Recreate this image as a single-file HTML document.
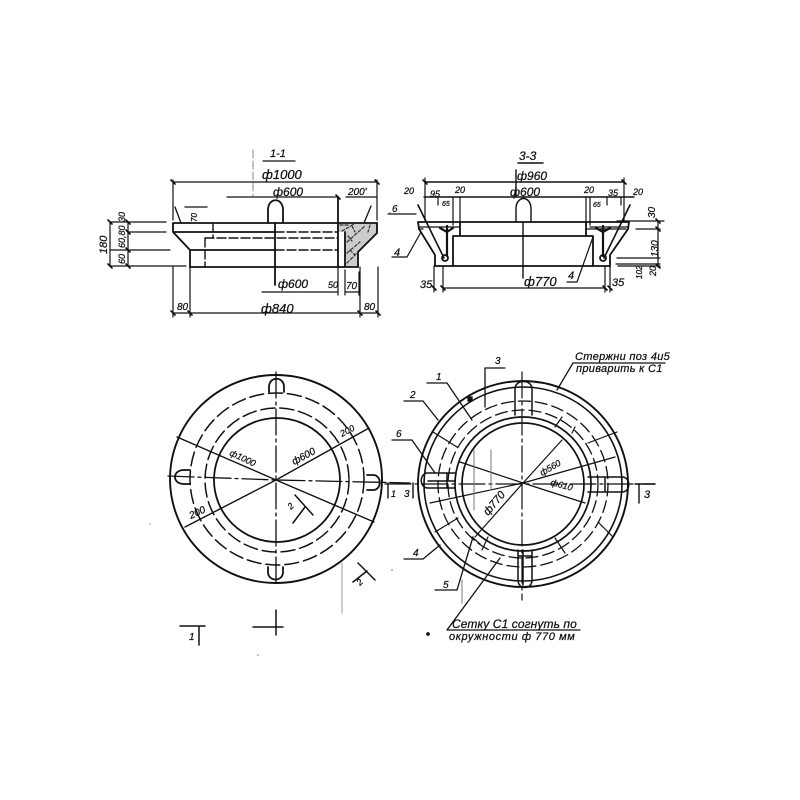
<!DOCTYPE html>
<html><head><meta charset="utf-8"><style>
html,body{margin:0;padding:0;background:#fff}
svg{display:block;filter:blur(.35px)}
text{font-family:"Liberation Sans","DejaVu Sans",sans-serif;font-style:italic;font-weight:normal;fill:#111;stroke:#111;stroke-width:.25}
</style></head><body>
<svg width="800" height="800" viewBox="0 0 800 800" fill="none" stroke="#111" stroke-width="1.3" stroke-linecap="round">
<!-- Section 1-1 -->
<g>
<path d="M338 223H377V233L358 252V267H345V232H338Z" fill="#ccc" stroke="none"/>
<path d="M340 225l8 0M342 231l12 -7M347 242l18 -16M347 253l13 -11M347 263l10 -10M352 226l3 6M370 225l-2 7M348 236l4 5M350 250l5 5" stroke="#333" stroke-dasharray="3 2" stroke-width="1.2"/>
<path d="M173 223H377V233L358 252V267H190V250L173 232V223M190 250H275M173 232H275M338 197V267M345 232V267" stroke-width="1.8"/>
<path d="M275 232H338M205 238H338M205 238V267M213 223V238M275 250H338" stroke-dasharray="9 3" stroke-width="1.4"/>
<path d="M268 223V210C268 197 283 197 283 210V223M275 223V285" stroke-width="1.8"/>
<path d="M175 207L181 223M371 206L364 223M185 207H207"/>
<path d="M173 180V220M377 180V220M173 182H377M346 197H377M227 197H338M263 161H295M262 292H338M338 267V295M345 270V295M359 272V295M345 292H359M173 267V317M190 267V317M360 267V317M378 267V317M173 313H378" stroke-width="1.2"/>
<path d="M253 150V196" stroke="#888" stroke-dasharray="8 3" stroke-width="1"/>
<path d="M110 222H166M128 232H166M110 250H170M110 266H186M110 222V266M128 222V266" stroke-width="1.2"/>
<path d="M171 180l4 4M375 180l4 4M171 311l4 4M188 311l4 4M358 311l4 4M376 311l4 4M336 195l4 4M126 220l4 4M126 230l4 4M126 248l4 4M126 264l4 4M108 220l4 4M108 264l4 4" stroke-width="1.6"/>
<text x="270" y="157" font-size="11">1-1</text>
<text x="262" y="179" font-size="13">ф1000</text>
<text x="273" y="196" font-size="12">ф600</text>
<text x="348" y="195" font-size="10">200'</text>
<text x="278" y="288" font-size="12">ф600</text>
<text x="328" y="288" font-size="9">50</text>
<text x="346" y="289" font-size="10">70</text>
<text x="261" y="313" font-size="13">ф840</text>
<text x="177" y="310" font-size="10">80</text>
<text x="364" y="310" font-size="10">80</text>
<text transform="translate(107,254) rotate(-90)" font-size="11">180</text>
<text transform="translate(125,222) rotate(-90)" font-size="9">30</text>
<text transform="translate(125,248) rotate(-90)" font-size="9">60,80</text>
<text transform="translate(125,264) rotate(-90)" font-size="9">60</text>
<text transform="translate(197,222) rotate(-90)" font-size="8">70</text>
</g>
<!-- Section 3-3 -->
<g>
<path d="M418 222H629L628 229L610 255V266H435V255L419 229L418 222M460 222V236M586 222V236M453 236H593M453 236V266M593 236V266" stroke-width="1.8"/>
<path d="M420 227H460M590 227H628M419 229H423M586 229H626" stroke-width="1.2"/>
<path d="M447 226V256M603 226V256M440 228L447 232L453 228M596 228L603 232L610 228" stroke-width="2.2"/>
<path d="M418 205L444 258M630 205L604 258" stroke-width="1.6"/>
<circle cx="445" cy="258" r="3" stroke-width="1.8"/><circle cx="603" cy="258" r="3" stroke-width="1.8"/>
<path d="M516 222V209C516 195 531 195 531 209V222M523 222V278M518 163H543M516 170V197M425 182H624M424 197H634" stroke-width="1.4"/>
<path d="M425 178V222M624 178V222M438 197V205M453 197V225M460 197V225M586 197V225M590 197V225M607 197V205M621 197V205M388 214H416M392 257H407L421 232" stroke-width="1.2"/>
<path d="M434 266V292M443 266V292M605 266V292M610 266V292M443 288H605M567 282H577L593 237M617 221H664M636 229H660M617 258H660M616 264H660M618 266H660M658 221V267" stroke-width="1.2"/>
<path d="M423 180l4 4M622 180l4 4M441 286l4 4M603 286l4 4M432 286l4 4M608 286l4 4M656 219l4 4M656 227l4 4M656 264l4 4" stroke-width="1.6"/>
<text x="519" y="160" font-size="12" font-style="normal">3-3</text>
<text x="517" y="180" font-size="12">ф960</text>
<text x="510" y="196" font-size="12">ф600</text>
<text x="404" y="194" font-size="9">20</text>
<text x="430" y="197" font-size="9">95</text>
<text x="442" y="206" font-size="7">65</text>
<text x="455" y="193" font-size="9">20</text>
<text x="584" y="193" font-size="9">20</text>
<text x="593" y="207" font-size="7">65</text>
<text x="608" y="196" font-size="9">35</text>
<text x="633" y="195" font-size="9">20</text>
<text x="392" y="212" font-size="10">6</text>
<text x="394" y="256" font-size="11">4</text>
<text x="568" y="279" font-size="11">4</text>
<text x="420" y="288" font-size="11">35</text>
<text x="612" y="286" font-size="11">35</text>
<text x="524" y="286" font-size="13">ф770</text>
<text transform="translate(655,218) rotate(-90)" font-size="10">30</text>
<text transform="translate(658,257) rotate(-90)" font-size="10">130</text>
<text transform="translate(642,279) rotate(-90)" font-size="8">102</text>
<text transform="translate(656,276) rotate(-90)" font-size="9">20</text>
</g>
<!-- Left plan -->
<g>
<ellipse cx="276" cy="479" rx="106" ry="104" stroke-width="1.9"/>
<ellipse cx="277" cy="480" rx="63" ry="62" stroke-width="1.8"/>
<ellipse cx="277" cy="480" rx="72" ry="72" stroke-dasharray="14 5" stroke-width="1.5"/>
<ellipse cx="277" cy="479" rx="87" ry="86" stroke-dasharray="14 5" stroke-width="1.5"/>
<path d="M276 372V583M168 476L276 480L410 483" stroke-dasharray="26 4 3 4" stroke-width="1.3"/>
<path d="M269 392V387C269 376 284 376 284 387V392" stroke-width="1.8"/>
<path d="M268 567V572C268 582 283 582 283 572V567" stroke-width="1.8"/>
<path d="M190 470H184C172 470 172 484 184 484H190" stroke-width="1.8"/>
<path d="M367 475H373C382 475 382 490 373 490H367" stroke-width="1.8"/>
<path d="M177 437L276 480L374 522M369 428L276 480L185 527" stroke-width="1.4"/>
<path d="M295 495L313 515M305 507L293 523M358 563L375 580M367 571L353 582M253 627H283M276 610V635M180 626H205M199 626V645" stroke-width="1.5"/>
<path d="M342 563V613" stroke="#999" stroke-width="1"/>
<text transform="translate(229,455) rotate(25)" font-size="9">ф1000</text>
<text transform="translate(294,465) rotate(-28)" font-size="10">ф600</text>
<text transform="translate(342,437) rotate(-28)" font-size="9">200</text>
<text transform="translate(191,519) rotate(-25)" font-size="10">200</text>
<text transform="translate(291,510) rotate(-45)" font-size="9">2</text>
<text transform="translate(360,586) rotate(-45)" font-size="9">2</text>
<text x="189" y="640" font-size="10" font-style="normal">1</text>
<text x="391" y="497" font-size="9" font-style="normal">1</text>
<text x="404" y="497" font-size="10" font-style="normal">3</text>
<path d="M388 483V498M413 483V498" stroke-width="1.4"/>
</g>
<!-- Right plan -->
<g>
<ellipse cx="523" cy="484" rx="105" ry="103" stroke-width="1.9"/>
<ellipse cx="523" cy="484" rx="99" ry="97" stroke-width="1.6"/>
<ellipse cx="523" cy="484" rx="85" ry="83" stroke-dasharray="12 5" stroke-width="1.3"/>
<ellipse cx="523" cy="484" rx="75" ry="74" stroke-dasharray="12 5" stroke-width="1.3"/>
<ellipse cx="523" cy="484" rx="68" ry="67" stroke-width="1.7"/>
<ellipse cx="523" cy="484" rx="61" ry="61" stroke-width="1.7"/>
<path d="M522 372V600M385 484H655" stroke-dasharray="26 4 3 4" stroke-width="1.2"/>
<path d="M515 415V389C515 379 532 379 532 389V415" stroke-width="1.5"/>
<path d="M518 550V580C518 590 532 590 532 580V550M523 550V585M518 556H532" stroke-width="1.5"/>
<path d="M455 473H428C419 473 419 488 428 488H455M428 481H455M447 473V488" stroke-width="1.5"/>
<path d="M588 477H622C631 477 631 492 622 492H588M605 477V492" stroke-width="1.5"/>
<path d="M460 462L523 483L585 503M430 503L523 483L615 457M562 440L523 483L475 537M433 432L457 447M435 532L458 518M588 443L617 432M598 522L613 537M555 538L565 553M555 427L562 417M572 433L575 427M472 537L480 544M488 537L482 550" stroke-width="1.2"/>
<path d="M485 368H505M485 368V407M427 383H447L472 420M404 401H423L438 420M392 440H412L435 473M404 559H423L440 545M435 590H457L473 537M447 630L500 558M447 630H580M573 363H665M573 363L557 390" stroke-width="1.3"/>
<path d="M462 580V603" stroke="#999"/>
<rect x="468" y="397" width="4" height="4" fill="#111"/>
<path d="M474 450V510M491 450V490" stroke="#777" stroke-width="1"/>
<path d="M639 484V503M635 484H655" stroke-width="1.4"/>
<text x="495" y="364" font-size="10">3</text>
<text x="436" y="380" font-size="10">1</text>
<text x="410" y="398" font-size="10">2</text>
<text x="396" y="437" font-size="10">6</text>
<text x="413" y="556" font-size="10">4</text>
<text x="443" y="588" font-size="10">5</text>
<text x="575" y="360" font-size="11" letter-spacing=".3">Стержни поз 4и5</text>
<text x="576" y="372" font-size="11" letter-spacing=".3">приварить к С1</text>
<text x="452" y="628" font-size="12" letter-spacing=".1">Сетку С1 согнуть по</text>
<text x="449" y="640" font-size="11" letter-spacing=".6">окружности ф 770 мм</text>
<text x="644" y="498" font-size="11" font-style="normal">3</text>
<text transform="translate(542,476) rotate(-30)" font-size="9">ф560</text>
<text transform="translate(550,485) rotate(15)" font-size="9">ф610</text>
<text transform="translate(488,516) rotate(-50)" font-size="11">ф770</text>
<circle cx="428" cy="634" r="1.2" fill="#111"/>
</g>
<g fill="#666" stroke="none">
<circle cx="258" cy="655" r=".7"/><circle cx="392" cy="570" r=".7"/><circle cx="150" cy="524" r=".6"/><circle cx="390" cy="213" r=".7"/>
</g>
</svg>
</body></html>
